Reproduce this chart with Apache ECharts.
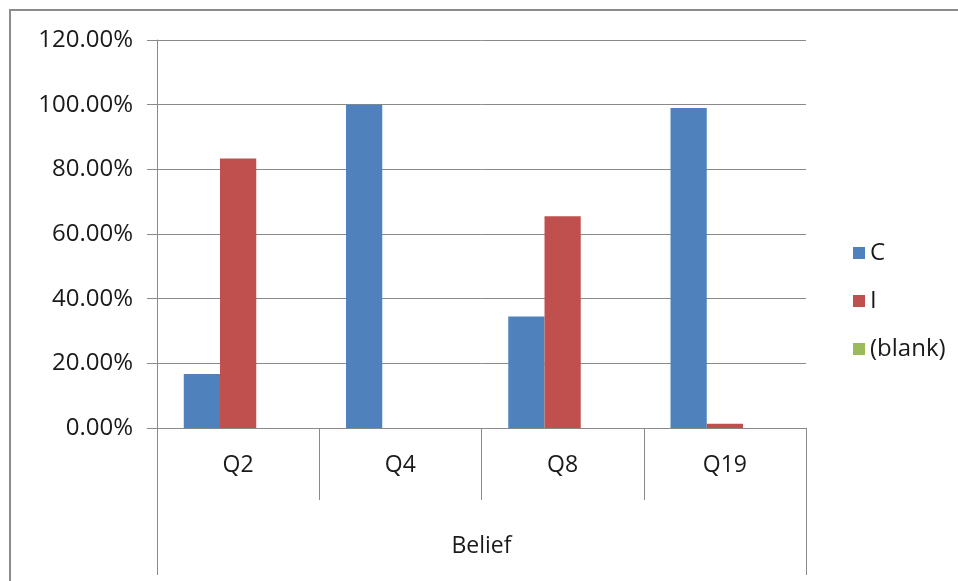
<!DOCTYPE html>
<html>
<head>
<meta charset="utf-8">
<script src="https://cdn.jsdelivr.net/npm/echarts@6/dist/echarts.min.js"></script>
<style>
  html, body { margin: 0; padding: 0; background: #fff; }
  #chart { width: 958px; height: 581px; }
</style>
</head>
<body>
<div id="chart"></div>
<script>
// Categories (inner level) and the group they belong to (outer level)
const categories = ['Q2', 'Q4', 'Q8', 'Q19'];
const groupLabels = ['Belief'];

// Share of answers per question
const seriesNames = ['C', 'I', '(blank)'];
const valuesC = [0.1667, 1.0, 0.3448, 0.99];
const valuesI = [0.8333, 0, 0.6552, 0.0132];
const valuesBlank = [null, null, null, null];

// Value axis settings
const yMin = 0;
const yMax = 1.2;
const yStep = 0.2;

const colors = ['#4F81BD', '#C0504D', '#9BBB59'];
const FONT = 'Open Sans';
const TEXT = '#1a1a1a';
const LINE = '#8a8a8a';

const chart = echarts.init(document.getElementById('chart'));

chart.setOption({
  animation: false,
  textStyle: { fontFamily: FONT },
  color: colors,
  graphic: [{
    type: 'rect',
    shape: { x: 10, y: 10, width: 1200, height: 1200 },
    style: { fill: 'none', stroke: '#8c8c8c', lineWidth: 2 },
    silent: true
  }],
  grid: { left: 157, right: 152, top: 40, bottom: 153 },
  legend: {
    orient: 'vertical',
    left: 848,
    top: 236,
    itemWidth: 12,
    itemHeight: 12,
    itemGap: 24,
    icon: 'rect',
    textStyle: { fontFamily: FONT, fontSize: 24, color: TEXT, padding: [0, 0, 0, 0] },
    data: seriesNames
  },
  xAxis: [
    {
      type: 'category',
      data: categories,
      position: 'bottom',
      axisLine: { show: true, lineStyle: { color: LINE, width: 1 } },
      axisTick: { show: true, length: 72, interval: 0, lineStyle: { color: LINE, width: 1 } },
      axisLabel: { margin: 26, fontSize: 23, color: TEXT, fontFamily: FONT, interval: 0 },
      splitLine: { show: false }
    },
    {
      type: 'category',
      data: groupLabels,
      position: 'bottom',
      axisLine: { show: false },
      axisTick: { show: true, length: 147, interval: 0, lineStyle: { color: LINE, width: 1 } },
      axisLabel: { margin: 107, fontSize: 23, color: TEXT, fontFamily: FONT },
      splitLine: { show: false }
    }
  ],
  yAxis: {
    type: 'value',
    min: yMin,
    max: yMax,
    interval: yStep,
    axisLine: { show: true, lineStyle: { color: LINE, width: 1 } },
    axisTick: { show: true, inside: false, length: 10, lineStyle: { color: LINE, width: 1 } },
    axisLabel: {
      margin: 24,
      fontSize: 24,
      color: TEXT,
      fontFamily: FONT,
      formatter: v => (v * 100).toFixed(2) + '%'
    },
    splitLine: { show: true, lineStyle: { color: LINE, width: 1 } }
  },
  series: [
    { name: seriesNames[0], type: 'bar', xAxisIndex: 0, data: valuesC, barGap: '0%', barCategoryGap: '33%' },
    { name: seriesNames[1], type: 'bar', xAxisIndex: 0, data: valuesI, barGap: '0%', barCategoryGap: '33%' },
    { name: seriesNames[2], type: 'bar', xAxisIndex: 0, data: valuesBlank, barGap: '0%', barCategoryGap: '33%' }
  ]
});
</script>
</body>
</html>
